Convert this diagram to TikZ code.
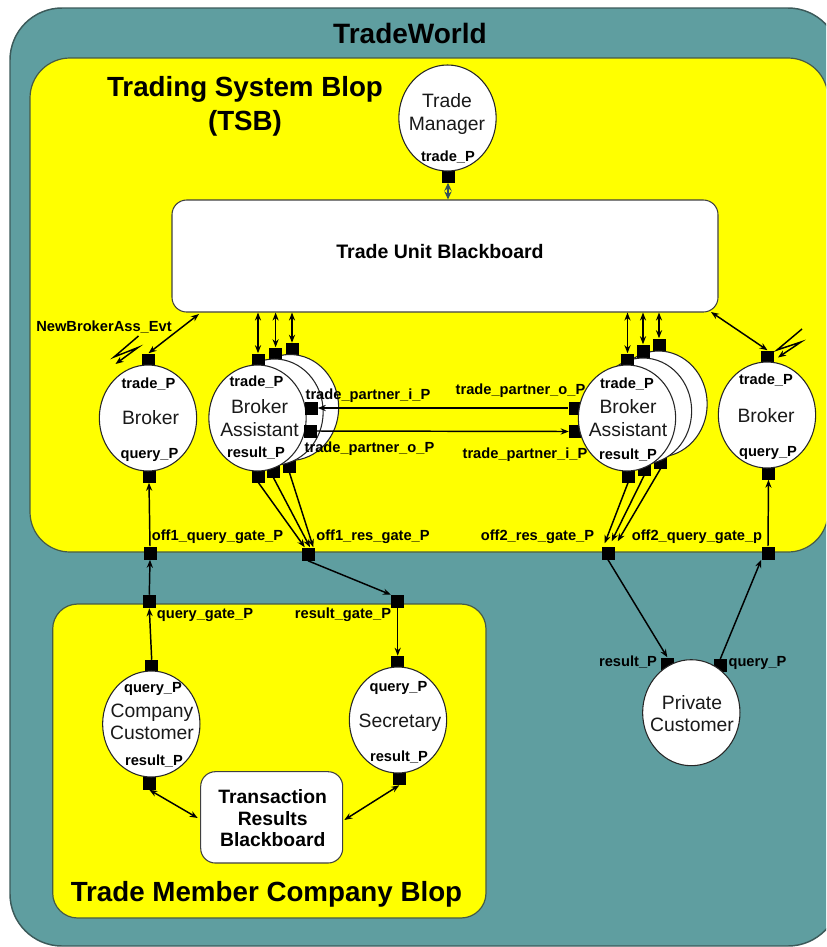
\documentclass[tikz,border=0pt]{standalone}
\usepackage{fontspec}
\setmainfont{Liberation Sans}
\usetikzlibrary{arrows.meta,shapes.geometric,calc}
\definecolor{teal1}{RGB}{95,158,160}
\definecolor{edge1}{RGB}{60,90,90}
\definecolor{edge2}{RGB}{70,90,70}
\definecolor{tmarrow}{RGB}{50,80,90}
\definecolor{blopyellow}{RGB}{255,255,0}
\tikzset{
  outerbox/.style={draw=edge1,line width=1.1pt,fill=teal1,rounded corners=39pt,minimum width=622.5pt,minimum height=703.5pt,inner sep=0pt},
  blopbox/.style={draw=edge2,line width=.9pt,fill=blopyellow,inner sep=0pt},
  board/.style={draw=black!75,line width=.8pt,fill=white,rounded corners=11pt,inner sep=0pt,align=center},
  circ/.style={ellipse,draw=black!85,line width=.8pt,fill=white,minimum width=73pt,minimum height=79.5pt,inner sep=0pt},
  port/.style={rectangle,fill=black,draw=none,minimum size=9.75pt,inner sep=0pt},
  lbl/.style={font=\fontsize{11}{13}\selectfont\bfseries,inner sep=0pt,text=black,yshift=-.8pt},
  nm/.style={font=\fontsize{14.5}{16.9}\selectfont,align=center,inner sep=0pt,text=black!90},
  ttl/.style={font=\fontsize{20.8}{25.5}\selectfont\bfseries,align=center,inner sep=0pt},
  arr/.style={line width=1.1pt,draw=black,-{Stealth[length=6pt,width=4.6pt]}},
  dbl/.style={line width=1.1pt,draw=black,{Stealth[length=6pt,width=4.6pt]}-{Stealth[length=6pt,width=4.6pt]}},
}
\begin{document}
\begin{tikzpicture}[x=.75pt,y=-.75pt]
\clip (0,0) rectangle (826,947);
% containers
\node[outerbox] (world) at (425,477) {};
\node[blopbox,rounded corners=30pt,minimum width=598.5pt,minimum height=370.5pt] (tsb) at (429,305) {};
\node[blopbox,rounded corners=18.75pt,minimum width=325pt,minimum height=235.5pt] (tmc) at (269.35,761) {};
\node[board,minimum width=409.5pt,minimum height=84pt] (bb) at (445,256) {};
\node[board,minimum width=106.5pt,minimum height=68.5pt] (trb) at (271.7,817.35) {};

% free ends on the blackboards
\coordinate (bbL) at (199,314);
\coordinate (bbR) at (711,312);
\coordinate (trbL) at (197.7,818);
\coordinate (trbR) at (344.3,820);
% lightning points
\coordinate (la) at (138.5,336);
\coordinate (lb) at (114,357);
\coordinate (lc) at (138,347.5);
\coordinate (ld) at (115.5,364);
\coordinate (ra) at (802,329);
\coordinate (rb) at (777,350);
\coordinate (rc) at (801,342);
\coordinate (rd) at (778,357.5);

% Trade Manager
\node[port] (tmP) at (448,176) {};
\node[circ] (tm) at (447.5,118) {};

% left Broker
\node[port] (blT) at (148.5,360) {};
\node[port] (blB) at (149,476) {};
\node[circ] (bl) at (148,418) {};

% left Broker Assistants
\node[port] (a3T) at (292,349.5) {};
\node[port] (a3B) at (289.5,466) {};
\node[circ] (a3) at (290,407.5) {};
\node[port] (a2T) at (275.6,354) {};
\node[port] (a2B) at (273.5,471) {};
\node[circ] (a2) at (274.5,412) {};
\node[port] (a1T) at (258,360) {};
\node[port] (a1B) at (258.5,476) {};
\node[circ] (a1) at (257.5,418) {};
\node[port] (a1I) at (311,408) {};
\node[port] (a1O) at (310,431) {};

% right Broker Assistants
\node[port] (c3T) at (659,345) {};
\node[port] (c3B) at (660.5,462) {};
\node[circ] (c3) at (658.5,404) {};
\node[port] (c2T) at (643,351) {};
\node[port] (c2B) at (644,469) {};
\node[circ] (c2) at (643,411) {};
\node[port] (c1T) at (627.5,360) {};
\node[port] (c1B) at (628,476) {};
\node[port] (c1O) at (575,408) {};
\node[port] (c1I) at (575.5,431.5) {};
\node[circ] (c1) at (627,418) {};

% right Broker
\node[port] (brT) at (767.5,357) {};
\node[port] (brB) at (768.5,473) {};
\node[circ] (br) at (767,415) {};

% gates
\node[port] (gq1) at (150,553) {};
\node[port] (gr1) at (308,554) {};
\node[port] (gr2) at (608,553) {};
\node[port] (gq2) at (768,553) {};
\node[port] (qg) at (149.3,601.5) {};
\node[port] (rg) at (397.7,601.5) {};

% Company Customer, Secretary, Private Customer
\node[port] (ccT) at (151.7,666.5) {};
\node[port] (ccB) at (149.3,783) {};
\node[circ] (cc) at (151.3,724) {};
\node[port] (seT) at (397.7,662.5) {};
\node[port] (seB) at (399.3,778.5) {};
\node[circ] (se) at (398,720) {};
\node[port] (pcR) at (667.3,664) {};
\node[port] (pcQ) at (720.3,665.7) {};
\node[circ] (pc) at (691.3,712.7) {};

% connectors
\draw[line width=1.3pt,draw=tmarrow,{Stealth[length=6pt,width=5.4pt]}-{Stealth[length=6pt,width=5.4pt]}] (tmP.south) -- (tmP.south |- bb.north);
\draw[dbl] (blT.north) -- (bbL);
\draw[dbl] (a1T.north) -- (a1T.north |- bb.south);
\draw[dbl] (a2T.north) -- (a2T.north |- bb.south);
\draw[dbl] (a3T.north) -- (a3T.north |- bb.south);
\draw[dbl] (c1T.north) -- (c1T.north |- bb.south);
\draw[dbl] (c2T.north) -- (c2T.north |- bb.south);
\draw[dbl] (c3T.north) -- (c3T.north |- bb.south);
\draw[dbl] (brT.north) -- (bbR);
\draw[arr] (gq1.north) -- (blB.south);
\draw[arr] (qg.north) -- (gq1.south);
\draw[arr] (ccT.north) -- (qg.south);
\draw[arr] (a1B.south) -- ($(gr1.north west)+(3.5,0)$);
\draw[arr] (a2B.south) -- ($(gr1.north)+(2,0)$);
\draw[arr] (a3B.south) -- ($(gr1.north east)+(-1.5,0)$);
\draw[arr] (gr1.south) -- (rg.north west);
\draw[arr] (rg.south) -- (seT.north);
\draw[arr] (c1B.south) -- ($(gr2.north west)+(3.5,-3)$);
\draw[arr] (c2B.south) -- ($(gr2.north)+(3.7,-5)$);
\draw[arr] (c3B.south) -- ($(gr2.north east)+(3,-5)$);
\draw[arr] (gq2.north) -- (brB.south);
\draw[arr] (gr2.south) -- (pcR.north);
\draw[arr] (pcQ.north) -- (gq2.south west);
\draw[arr] (c1O.west) -- (a1I.east);
\draw[arr] (a1O.east) -- (c1I.west);
\draw[dbl] (ccB.south) -- (trbL);
\draw[dbl] (seB.south) -- (trbR);
\draw[arr,line join=miter] (la) -- (lb) -- (lc) -- (ld);
\draw[arr,line join=miter] (ra) -- (rb) -- (rc) -- (rd);

% labels
\node[font=\fontsize{21}{24}\selectfont\bfseries,inner sep=0pt] (t1) at (410,33) {TradeWorld};
\node[ttl] (t2) at (245,106) {Trading System Blop\\(TSB)};
\node[ttl] (t3) at (266.5,894) {Trade Member Company Blop};
\node[font=\fontsize{14.65}{18}\selectfont\bfseries,inner sep=0pt] (t4) at (440,252) {Trade Unit Blackboard};
\node[font=\fontsize{14.5}{16.1}\selectfont\bfseries,align=center,inner sep=0pt] (t5) at (272.7,818.5) {Transaction\\Results\\Blackboard};

\node[nm] (n1) at (447,114) {Trade\\Manager};
\node[lbl] (l1) at (448,156) {trade\_P};
\node[nm] (n2) at (150.5,418) {Broker};
\node[lbl] (l2) at (148.5,383) {trade\_P};
\node[lbl] (l3) at (149.5,454) {query\_P};
\node[nm] (n3) at (259.5,418) {Broker\\Assistant};
\node[lbl] (l4) at (256.5,381) {trade\_P};
\node[lbl] (l5) at (256,452) {result\_P};
\node[nm] (n4) at (628,418) {Broker\\Assistant};
\node[lbl] (l6) at (627,383) {trade\_P};
\node[lbl] (l7) at (628,454) {result\_P};
\node[nm] (n5) at (766,416) {Broker};
\node[lbl] (l8) at (766,379) {trade\_P};
\node[lbl] (l9) at (768,452) {query\_P};
\node[lbl] (l10) at (368,395) {trade\_partner\_i\_P};
\node[lbl] (l11) at (369.5,448) {trade\_partner\_o\_P};
\node[lbl] (l12) at (520.5,390) {trade\_partner\_o\_P};
\node[lbl] (l13) at (525,454) {trade\_partner\_i\_P};
\node[lbl] (l14) at (104,326) {NewBrokerAss\_Evt};
\node[lbl] (l15) at (217.5,536) {off1\_query\_gate\_P};
\node[lbl] (l16) at (373,536) {off1\_res\_gate\_P};
\node[lbl] (l17) at (537.5,536) {off2\_res\_gate\_P};
\node[lbl] (l18) at (697,536) {off2\_query\_gate\_p};
\node[lbl] (l19) at (205,614) {query\_gate\_P};
\node[lbl] (l20) at (343,614) {result\_gate\_P};
\node[nm] (n6) at (152,722) {Company\\Customer};
\node[lbl] (l21) at (153,687.5) {query\_P};
\node[lbl] (l22) at (154,760) {result\_P};
\node[nm] (n7) at (400,723) {Secretary};
\node[lbl] (l23) at (398.5,686.5) {query\_P};
\node[lbl] (l24) at (399,756.5) {result\_P};
\node[nm] (n8) at (692,713.5) {Private\\Customer};
\node[lbl] (l25) at (628,661) {result\_P};
\node[lbl] (l26) at (757.5,662) {query\_P};
\end{tikzpicture}
\end{document}
